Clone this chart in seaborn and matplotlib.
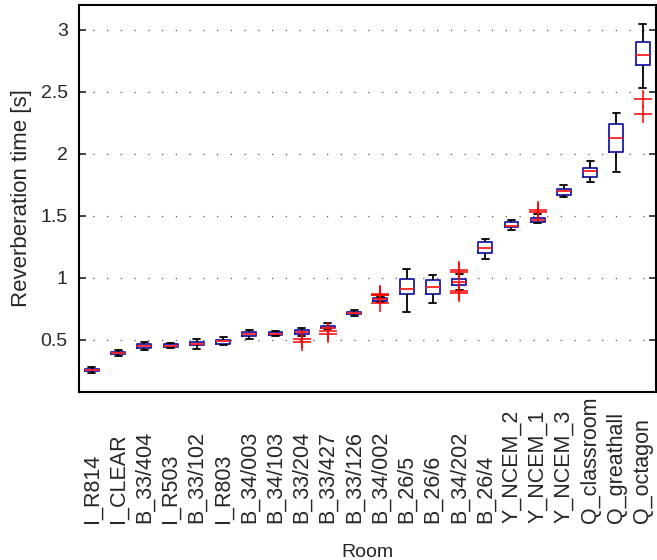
import numpy as np
import pandas as pd
import matplotlib
matplotlib.use('Agg')
import matplotlib.pyplot as plt
import seaborn as sns

# Rooms in plotting order
rooms = ['I_R814', 'I_CLEAR', 'B_33/404', 'I_R503', 'B_33/102', 'I_R803',
         'B_34/003', 'B_34/103', 'B_33/204', 'B_33/427', 'B_33/126', 'B_34/002',
         'B_26/5', 'B_26/6', 'B_34/202', 'B_26/4', 'Y_NCEM_2', 'Y_NCEM_1',
         'Y_NCEM_3', 'Q_classroom', 'Q_greathall', 'Q_octagon']

# Box statistics (seconds)
whisk_lo = [0.235, 0.370, 0.418, 0.432, 0.425, 0.455, 0.505, 0.533, 0.535, 0.585, 0.690,
            0.805, 0.728, 0.800, 0.905, 1.156, 1.387, 1.440, 1.650, 1.770, 1.850, 2.530]
q1 = [0.248, 0.383, 0.437, 0.444, 0.455, 0.470, 0.530, 0.540, 0.545, 0.592, 0.705,
      0.816, 0.868, 0.871, 0.944, 1.200, 1.408, 1.450, 1.672, 1.817, 2.013, 2.720]
median = [0.258, 0.393, 0.452, 0.454, 0.470, 0.490, 0.547, 0.550, 0.562, 0.600, 0.714,
          0.828, 0.911, 0.925, 0.968, 1.245, 1.422, 1.465, 1.700, 1.865, 2.127, 2.800]
q3 = [0.268, 0.405, 0.466, 0.465, 0.485, 0.503, 0.565, 0.560, 0.578, 0.613, 0.724,
      0.840, 0.989, 0.984, 0.990, 1.290, 1.454, 1.480, 1.715, 1.884, 2.240, 2.905]
whisk_hi = [0.285, 0.418, 0.482, 0.476, 0.510, 0.522, 0.580, 0.574, 0.600, 0.636, 0.745,
            0.850, 1.070, 1.024, 1.030, 1.317, 1.468, 1.516, 1.753, 1.940, 2.330, 3.050]

# Outliers
outlier_rooms = ['B_33/204', 'B_33/204', 'B_33/427', 'B_33/427',
                 'B_34/002', 'B_34/002', 'B_34/002', 'B_34/002',
                 'B_34/202', 'B_34/202', 'B_34/202', 'B_34/202',
                 'Y_NCEM_1', 'Y_NCEM_1', 'Q_octagon', 'Q_octagon']
outlier_vals = [0.486, 0.510, 0.573, 0.545,
                0.860, 0.865, 0.870, 0.795,
                1.050, 1.065, 0.880, 0.895,
                1.535, 1.550, 2.440, 2.320]

# long table: five points per room give exactly these quartiles/whiskers
rows = []
for i, r in enumerate(rooms):
    for v in (whisk_lo[i], q1[i], median[i], q3[i], whisk_hi[i]):
        rows.append((r, v))
df = pd.DataFrame(rows, columns=['Room', 'RT'])
df_out = pd.DataFrame({'Room': outlier_rooms, 'RT': outlier_vals})

sns.set_style('ticks')
plt.rcParams['font.family'] = ['Liberation Sans', 'DejaVu Sans']

fig = plt.figure(figsize=(6.57, 5.6), dpi=100)
ax = fig.add_axes([0.120, 0.300, 0.878, 0.691])

box_blue = '#1c1ca8'
sns.boxplot(data=df, x='Room', y='RT', order=rooms, ax=ax,
            whis=(0, 100), fill=False, width=0.53, linewidth=1.3,
            showfliers=False,
            boxprops=dict(color=box_blue),
            whiskerprops=dict(color='black', linestyle='-'),
            capprops=dict(color='black'),
            medianprops=dict(color='#ff2020'))

sns.stripplot(data=df_out, x='Room', y='RT', order=rooms, ax=ax,
              jitter=False, marker='+', color='red', size=13, linewidth=1.1,
              zorder=5)

ax.set_xlim(-0.5, len(rooms) - 0.5)
ax.set_ylim(0.08, 3.2)
ax.set_yticks([0.5, 1, 1.5, 2, 2.5, 3])
ax.set_yticklabels(['0.5', '1', '1.5', '2', '2.5', '3'])
ax.yaxis.grid(True, linestyle=(0, (1, 10)), color='0.35', linewidth=0.9)
ax.set_axisbelow(True)

ax.tick_params(axis='y', direction='in', right=True, left=True, length=5,
               width=1.2, labelsize=14, pad=8)
# labels bottom-aligned like MATLAB's rotated tick labels
ax.tick_params(axis='x', length=0, labelsize=15.5, pad=94)
plt.xticks(rotation=90, va='bottom')

for s in ax.spines.values():
    s.set_visible(True)
    s.set_linewidth(1.5)
    s.set_color('black')

ax.set_xlabel('Room', fontsize=14)
ax.xaxis.set_label_coords(0.5, -0.392)
ax.set_ylabel('Reverberation time [s]', fontsize=16, labelpad=6)

fig.savefig('out.png', dpi=100)
